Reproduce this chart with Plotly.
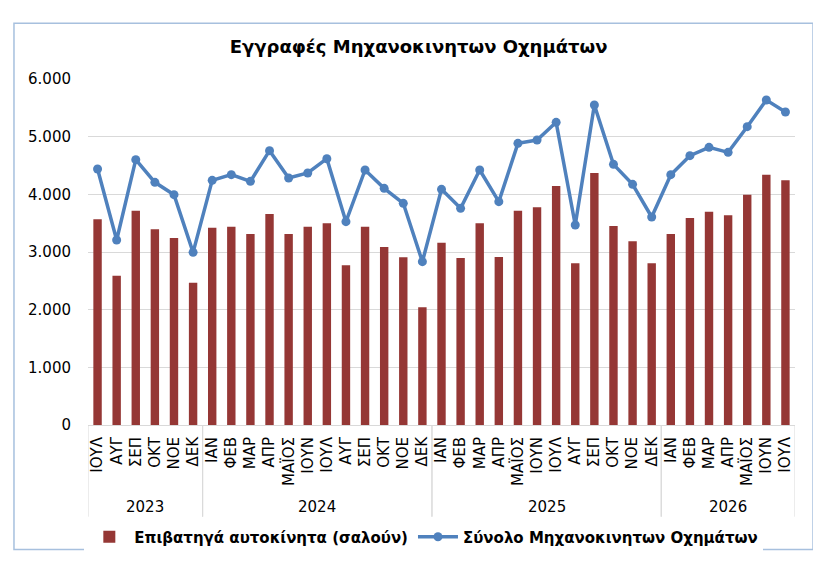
import plotly.graph_objects as go

# Data
years = ["2023"] * 6 + ["2024"] * 12 + ["2025"] * 12 + ["2026"] * 7
months = (
    ["ΙΟΥΛ", "ΑΥΓ", "ΣΕΠ", "ΟΚΤ", "ΝΟΕ", "ΔΕΚ"]
    + ["ΙΑΝ", "ΦΕΒ", "ΜΑΡ", "ΑΠΡ", "ΜΑΪΟΣ", "ΙΟΥΝ", "ΙΟΥΛ", "ΑΥΓ", "ΣΕΠ", "ΟΚΤ", "ΝΟΕ", "ΔΕΚ"] * 2
    + ["ΙΑΝ", "ΦΕΒ", "ΜΑΡ", "ΑΠΡ", "ΜΑΪΟΣ", "ΙΟΥΝ", "ΙΟΥΛ"]
)
passenger_cars = [
    3570, 2590, 3717, 3393, 3243, 2468,
    3422, 3439, 3312, 3659, 3312, 3439, 3497, 2769, 3439, 3087, 2908, 2040,
    3162, 2896, 3497, 2913, 3717, 3775, 4145, 2803, 4370, 3451, 3185, 2803,
    3312, 3590, 3699, 3636, 3994, 4341, 4243,
]
total_vehicles = [
    4439, 3208, 4601, 4208, 3994, 2994,
    4243, 4341, 4225, 4757, 4283, 4370, 4618, 3526, 4422, 4104, 3844, 2832,
    4087, 3757, 4422, 3873, 4884, 4942, 5249, 3468, 5549, 4520, 4173, 3607,
    4341, 4671, 4815, 4728, 5173, 5636, 5428,
]
y_ticks = [0, 1000, 2000, 3000, 4000, 5000, 6000]
y_tick_text = ["0", "1.000", "2.000", "3.000", "4.000", "5.000", "6.000"]

pos = list(range(len(months)))

fig = go.Figure()
fig.add_trace(go.Bar(
    x=pos, y=passenger_cars,
    name="Επιβατηγά αυτοκίνητα (σαλούν)",
    marker=dict(color="#953735", line=dict(width=0)),
))
fig.add_trace(go.Scatter(
    x=pos, y=total_vehicles,
    name="Σύνολο Μηχανοκινητων Οχημάτων",
    mode="lines+markers",
    line=dict(color="#4F81BD", width=3.5),
    marker=dict(color="#4F81BD", size=9),
))

# year groups: labels under the months and divider lines between groups
groups = []
for i, yr in enumerate(years):
    if not groups or groups[-1][0] != yr:
        groups.append([yr, i, i])
    else:
        groups[-1][2] = i

for yr, first, last in groups:
    fig.add_annotation(x=(first + last) / 2, y=-0.236, xref="x", yref="paper",
                       yanchor="middle", text=yr, showarrow=False,
                       font=dict(family="DejaVu Sans", size=15, color="black"))
    for edge in (first - 0.5, last + 0.5):
        fig.add_shape(type="line", xref="x", yref="paper",
                      x0=edge, x1=edge, y0=0, y1=-0.265,
                      line=dict(color="#D9D9D9", width=1))

# outer chart frame
fig.add_shape(type="rect", xref="paper", yref="paper",
              x0=-0.1047, x1=1.0255, y0=-0.360, y1=1.161,
              line=dict(color="#A7C0DE", width=1.5), fillcolor="rgba(0,0,0,0)",
              layer="below")

fig.update_layout(
    width=805, height=556,
    margin=dict(l=80, r=18, t=71, b=138),
    paper_bgcolor="white", plot_bgcolor="white",
    bargap=0.56,
    font=dict(family="DejaVu Sans", color="black"),
    title=dict(text="<b>Εγγραφές Μηχανοκινητων Οχημάτων</b>",
               x=0.51, xanchor="center", y=0.930, yanchor="middle",
               font=dict(family="DejaVu Sans", size=18, color="black")),
    legend=dict(orientation="h", x=0.475, xanchor="center",
                y=-0.32, yanchor="middle",
                font=dict(family="DejaVu Sans", size=15, color="black", weight="bold"),
                itemwidth=40, traceorder="normal"),
    xaxis=dict(range=[-0.5, len(months) - 0.5],
               tickvals=pos, ticktext=months, tickangle=-90,
               tickfont=dict(family="DejaVu Sans", size=15, color="black"),
               showline=True, linecolor="#D9D9D9", linewidth=1,
               ticks="", showgrid=False, zeroline=False, ticklabelstandoff=5),
    yaxis=dict(range=[0, 6000], tickvals=y_ticks, ticktext=y_tick_text,
               tickfont=dict(family="DejaVu Sans", size=15, color="black"),
               showgrid=True, gridcolor="#D9D9D9", gridwidth=1,
               zeroline=False, showline=False, ticks="", ticklabelstandoff=16),
)

fig.write_html("out.html")
